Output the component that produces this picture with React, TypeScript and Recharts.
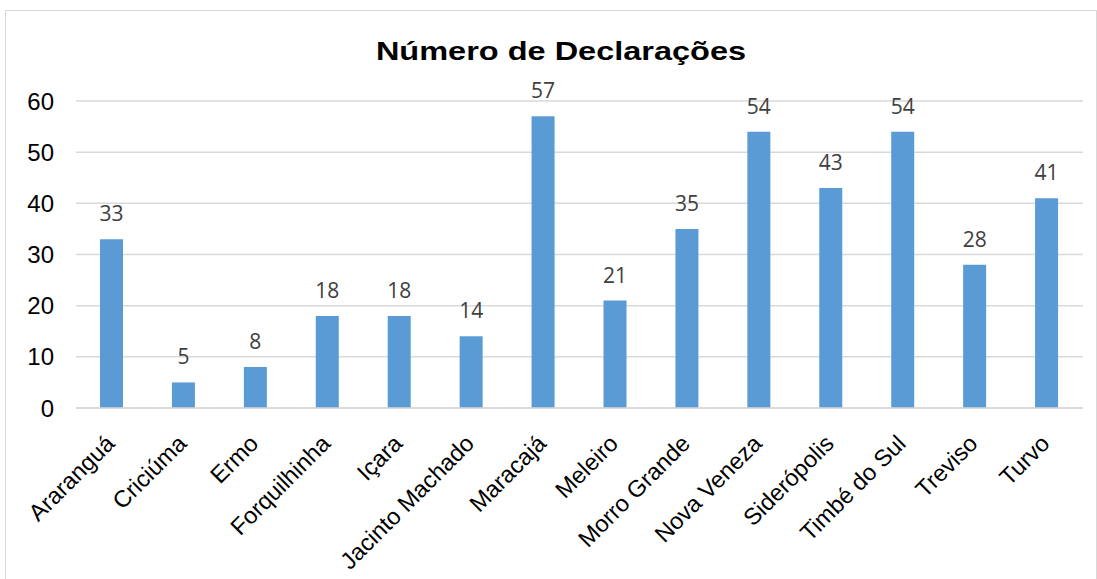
import { Bar, BarChart, CartesianGrid, LabelList, XAxis, YAxis } from "recharts"

const municipios = [
  "Araranguá",
  "Criciúma",
  "Ermo",
  "Forquilhinha",
  "Içara",
  "Jacinto Machado",
  "Maracajá",
  "Meleiro",
  "Morro Grande",
  "Nova Veneza",
  "Siderópolis",
  "Timbé do Sul",
  "Treviso",
  "Turvo",
]

const declaracoes = [33, 5, 8, 18, 18, 14, 57, 21, 35, 54, 43, 54, 28, 41]

const yTicks = [0, 10, 20, 30, 40, 50, 60]

const data = municipios.map((nome, i) => ({ nome, valor: declaracoes[i] }))

const arial = "Liberation Sans, Arial, sans-serif"

function RotatedTick(props: any) {
  const { x, y, payload } = props
  return (
    <g transform={`translate(${x + 4},${y + 29})`}>
      <text textAnchor="end" transform="rotate(-45)" fontSize={23.5} fontFamily={arial} fill="#000">
        {payload.value}
      </text>
    </g>
  )
}

export default function App() {
  return (
    <div style={{ position: "absolute", left: 0, top: 0, width: 1097, height: 579, background: "#fff", overflow: "hidden" }}>
      <div
        style={{
          position: "absolute",
          left: 5,
          top: 10,
          width: 1090,
          height: 600,
          border: "1px solid #d9d9d9",
        }}
      />
      <svg width={1097} height={579} style={{ position: "absolute", left: 0, top: 0 }}>
        <text
          x={0}
          y={0}
          transform="translate(561,60) scale(1.3,1)"
          textAnchor="middle"
          fontFamily={arial}
          fontWeight="bold"
          fontSize={25}
          fill="#000"
        >
          Número de Declarações
        </text>
      </svg>
      <div style={{ position: "absolute", left: 0, top: 0 }}>
        <BarChart
          width={1097}
          height={579}
          data={data}
          margin={{ top: 101, right: 14, bottom: 0, left: 16 }}
        >
          <CartesianGrid vertical={false} stroke="#d9d9d9" strokeWidth={1.5} />
          <XAxis
            dataKey="nome"
            interval={0}
            height={171}
            tickLine={false}
            axisLine={{ stroke: "#d9d9d9", strokeWidth: 1.5 }}
            tick={<RotatedTick />}
          />
          <YAxis
            width={60}
            domain={[0, 60]}
            ticks={yTicks}
            tickLine={false}
            axisLine={false}
            tickSize={0}
            tickMargin={22}
            tick={{ fontSize: 24, fill: "#000", fontFamily: arial }}
          />
          <Bar dataKey="valor" fill="#5b9bd5" barSize={23} isAnimationActive={false}>
            <LabelList
              dataKey="valor"
              position="top"
              offset={18}
              fontSize={21}
              fill="#404040"
              fontFamily="Open Sans, sans-serif"
            />
          </Bar>
        </BarChart>
      </div>
    </div>
  )
}
